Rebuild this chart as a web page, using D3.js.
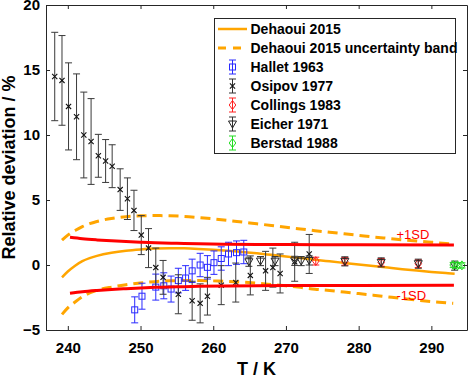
<!DOCTYPE html>
<html>
<head>
<meta charset="utf-8">
<script src="https://cdn.jsdelivr.net/npm/d3@7"></script>
<style>
  body { margin: 0; background: #fff; }
  svg text { font-family: "Liberation Sans", Arial, sans-serif; font-weight: bold; }
</style>
</head>
<body>
<script>
// chart data
var curveT = [239.2, 240, 241, 242, 243, 244, 246, 248, 250, 252, 254, 256, 258, 260, 262, 264, 266, 268, 270, 272, 274, 276, 278, 280, 282, 284, 286, 288, 290, 292, 293.2];
var curveV = [-0.95, -0.5, -0.05, 0.3, 0.53, 0.7, 0.94, 1.1, 1.2, 1.27, 1.29, 1.28, 1.24, 1.18, 1.1, 1.0, 0.9, 0.78, 0.66, 0.53, 0.4, 0.28, 0.16, 0.04, -0.08, -0.2, -0.32, -0.43, -0.53, -0.62, -0.67];

var bandT = [239.2, 240, 241, 242, 243, 244, 246, 248, 250, 252, 254, 256, 258, 260, 262, 264, 266, 268, 270, 272, 274, 276, 278, 280, 282, 284, 286, 288, 290, 292, 293];
var bandUp = [1.92, 2.3, 2.65, 2.95, 3.18, 3.35, 3.58, 3.72, 3.78, 3.8, 3.79, 3.74, 3.65, 3.55, 3.43, 3.3, 3.17, 3.04, 2.9, 2.77, 2.64, 2.52, 2.4, 2.28, 2.16, 2.05, 1.94, 1.84, 1.75, 1.66, 1.62];
var bandLo = [-3.8, -3.3, -2.85, -2.45, -2.15, -1.95, -1.7, -1.52, -1.38, -1.28, -1.22, -1.2, -1.2, -1.22, -1.26, -1.32, -1.4, -1.5, -1.6, -1.72, -1.86, -1.96, -2.08, -2.2, -2.32, -2.45, -2.58, -2.7, -2.81, -2.9, -2.95];

var sdT = [240.3, 242, 244, 246, 248, 250, 252, 255, 258, 262, 266, 270, 280, 293.1];
var sdUp = [2.13, 2.02, 1.93, 1.86, 1.8, 1.75, 1.71, 1.67, 1.63, 1.6, 1.58, 1.57, 1.55, 1.53];
var sdLo = [-2.18, -2.06, -1.96, -1.88, -1.82, -1.77, -1.72, -1.68, -1.64, -1.61, -1.59, -1.58, -1.57, -1.56];

var hallT = [249.2, 250.2, 252.1, 253.2, 254.2, 255.2, 256.2, 257.1, 258.2, 259.2, 260.1, 261.1, 262.1, 263.2, 264.2];
var hallV = [-3.45, -2.4, -1.7, -1.6, -1.85, -1.2, -1.0, -0.45, 0.0, -0.18, 0.18, 0.5, 0.85, 0.95, 1.0];
var hallE = [1.0, 1.0, 1.0, 1.0, 1.0, 0.95, 0.95, 0.9, 0.9, 0.9, 0.9, 0.9, 0.9, 0.9, 0.9];

var osiT = [238.2, 239.2, 240.1, 241.2, 242.2, 243.2, 244.2, 245.2, 246.1, 247.2, 248.2, 249.1, 250.1, 251.1, 252.1, 253.1, 255.2, 257.1, 258.2, 259.2, 261.1, 263.1, 265.1, 267.2, 268.2, 269.2, 271.2, 273.2];
var osiV = [14.5, 14.2, 12.2, 11.4, 10.0, 9.5, 8.4, 8.0, 7.6, 5.8, 5.1, 4.2, 2.3, 1.3, -0.2, -0.95, -2.25, -2.75, -2.95, -2.4, -1.55, -1.35, -0.8, -0.45, -0.2, -0.65, 0.25, 0.85];
var osiE = [3.4, 3.45, 3.35, 3.3, 3.3, 3.3, 1.65, 1.65, 1.65, 1.6, 1.6, 1.55, 1.5, 1.5, 1.5, 1.3, 1.5, 1.5, 1.5, 1.45, 1.5, 1.5, 1.5, 1.5, 1.5, 1.5, 1.5, 1.5];

var colT = [274.1, 278.1, 283.1, 288.2];
var colV = [0.3, 0.28, 0.2, 0.1];
var colE = [0.3, 0.3, 0.3, 0.3];

var eicT = [264.9, 266.5, 268.5, 271.2, 272.1, 273.2, 278.1, 283.1, 288.2, 293.2];
var eicV = [0.25, 0.3, 0.3, 0.32, 0.3, 0.35, 0.28, 0.2, 0.1, -0.05];
var eicE = [0.35, 0.35, 0.35, 0.35, 0.35, 0.35, 0.35, 0.35, 0.35, 0.35];

var berT = [293.0, 293.6, 294.2];
var berV = [0.0, -0.03, -0.03];
var berE = [0.2, 0.2, 0.2];

var xTicks = [240, 250, 260, 270, 280, 290];
var yTicks = [-5, 0, 5, 10, 15, 20];

var legendNames = ["Dehaoui 2015", "Dehaoui 2015 uncertainty band", "Hallet 1963", "Osipov 1977", "Collings 1983", "Eicher 1971", "Berstad 1988"];

var width = 469, height = 379;
var plotL = 46, plotR = 467, plotT = 5, plotB = 330;
var orange = "#ffa500", red = "#ff0000";

var svg = d3.select("body")
    .append("svg")
    .attr("width", width)
    .attr("height", height);

var xScale = d3.scaleLinear().domain([237, 294.9]).range([plotL, plotR]);
var yScale = d3.scaleLinear().domain([-5, 20]).range([plotB, plotT]);

function pairs(xs, ys) {
    return xs.map(function(t, i) { return [t, ys[i]]; });
}

var line = d3.line()
    .x(function(d) { return xScale(d[0]); })
    .y(function(d) { return yScale(d[1]); })
    .curve(d3.curveMonotoneX);

// model curve and band
svg.append("path").attr("d", line(pairs(bandT, bandUp)))
    .attr("fill", "none").attr("stroke", orange).attr("stroke-width", 3).attr("stroke-dasharray", "10,6");
svg.append("path").attr("d", line(pairs(bandT, bandLo)))
    .attr("fill", "none").attr("stroke", orange).attr("stroke-width", 3).attr("stroke-dasharray", "10,6");
svg.append("path").attr("d", line(pairs(curveT, curveV)))
    .attr("fill", "none").attr("stroke", orange).attr("stroke-width", 2.5);

// marker shapes
function drawMarker(g, kind, color) {
    if (kind == "square") {
        g.append("rect").attr("x", -3).attr("y", -3).attr("width", 6).attr("height", 6)
            .attr("fill", "none").attr("stroke", color).attr("stroke-width", 1);
    } else if (kind == "x") {
        g.append("path").attr("d", "M-2.6,-2.6L2.6,2.6M-2.6,2.6L2.6,-2.6")
            .attr("stroke", color).attr("stroke-width", 1.1);
    } else if (kind == "diamond") {
        g.append("path").attr("d", "M0,-4.5L3.3,0L0,4.5L-3.3,0Z")
            .attr("fill", "none").attr("stroke", color).attr("stroke-width", 1);
    } else if (kind == "tri") {
        g.append("path").attr("d", "M-4,-3L4,-3L0,4Z")
            .attr("fill", "none").attr("stroke", color).attr("stroke-width", 1);
    }
}

function errorSeries(ts, vs, es, kind, color, barColor) {
    var g = svg.append("g");
    var pts = g.selectAll("g").data(ts.map(function(t, i) { return {t: t, v: vs[i], e: es[i]}; }))
        .enter().append("g");
    pts.append("line")
        .attr("x1", function(d) { return xScale(d.t); })
        .attr("x2", function(d) { return xScale(d.t); })
        .attr("y1", function(d) { return yScale(d.v + d.e); })
        .attr("y2", function(d) { return yScale(d.v - d.e); })
        .attr("stroke", barColor).attr("stroke-width", 1);
    [1, -1].forEach(function(s) {
        pts.append("line")
            .attr("x1", function(d) { return xScale(d.t) - 3.5; })
            .attr("x2", function(d) { return xScale(d.t) + 3.5; })
            .attr("y1", function(d) { return yScale(d.v + s * d.e); })
            .attr("y2", function(d) { return yScale(d.v + s * d.e); })
            .attr("stroke", barColor).attr("stroke-width", 1);
    });
    pts.each(function(d) {
        var m = d3.select(this).append("g")
            .attr("transform", "translate(" + xScale(d.t) + "," + yScale(d.v) + ")");
        drawMarker(m, kind, color);
    });
}

errorSeries(hallT, hallV, hallE, "square", "#2a2aff", "#2a2aff");
errorSeries(osiT, osiV, osiE, "x", "#111", "#3a3a3a");
errorSeries(colT, colV, colE, "diamond", "#ff2020", "#ff2020");
errorSeries(eicT, eicV, eicE, "tri", "#222", "#333");
errorSeries(berT, berV, berE, "diamond", "#22dd22", "#22dd22");

// +/- 1 SD lines
svg.append("path").attr("d", line(pairs(sdT, sdUp)))
    .attr("fill", "none").attr("stroke", red).attr("stroke-width", 3);
svg.append("path").attr("d", line(pairs(sdT, sdLo)))
    .attr("fill", "none").attr("stroke", red).attr("stroke-width", 3);

svg.append("text").attr("x", xScale(285.2)).attr("y", yScale(2.0))
    .attr("fill", red).style("font-weight", "normal").attr("font-size", 13).text("+1SD");
svg.append("text").attr("x", xScale(285.2)).attr("y", yScale(-2.7))
    .attr("fill", red).style("font-weight", "normal").attr("font-size", 13).text("-1SD");

// axes (ticks inside, box on)
var axisColor = "#262626";
function styleAxis(g) {
    g.select(".domain").attr("stroke", axisColor);
    g.selectAll(".tick line").attr("stroke", axisColor);
    g.selectAll(".tick text").attr("fill", "#000").attr("font-size", 15)
        .attr("font-family", "Liberation Sans, Arial, sans-serif");
}

svg.append("g").attr("transform", "translate(0," + plotB + ")")
    .call(d3.axisBottom(xScale).tickValues(xTicks).tickSizeInner(-4).tickSizeOuter(0).tickPadding(12))
    .call(styleAxis);
svg.append("g").attr("transform", "translate(0," + plotT + ")")
    .call(d3.axisTop(xScale).tickValues(xTicks).tickSizeInner(-4).tickSizeOuter(0).tickFormat(""))
    .call(styleAxis);
svg.append("g").attr("transform", "translate(" + plotL + ",0)")
    .call(d3.axisLeft(yScale).tickValues(yTicks).tickSizeInner(-4).tickSizeOuter(0).tickPadding(6))
    .call(styleAxis);
svg.append("g").attr("transform", "translate(" + plotR + ",0)")
    .call(d3.axisRight(yScale).tickValues(yTicks).tickSizeInner(-4).tickSizeOuter(0).tickFormat(""))
    .call(styleAxis);

// axis titles
svg.append("text").attr("x", (plotL + plotR) / 2).attr("y", 375)
    .attr("text-anchor", "middle").attr("font-size", 18).text("T / K");
svg.append("text").attr("transform", "rotate(-90)")
    .attr("x", -(plotT + plotB) / 2).attr("y", 15)
    .attr("text-anchor", "middle").attr("font-size", 18).text("Relative deviation / %");

// legend
var leg = svg.append("g");
leg.append("rect").attr("x", 214.5).attr("y", 18.5).attr("width", 241).attr("height", 135)
    .attr("fill", "#fff").attr("stroke", axisColor).attr("stroke-width", 1);

var legKinds = [
    {type: "line"}, {type: "dash"},
    {type: "err", kind: "square", color: "#2a2aff", bar: "#2a2aff"},
    {type: "err", kind: "x", color: "#111", bar: "#333"},
    {type: "err", kind: "diamond", color: "#ff2020", bar: "#ff2020"},
    {type: "err", kind: "tri", color: "#222", bar: "#333"},
    {type: "err", kind: "diamond", color: "#22dd22", bar: "#22dd22"}
];

legendNames.forEach(function(name, i) {
    var yc = 29 + i * 19;
    var k = legKinds[i];
    if (k.type == "line") {
        leg.append("line").attr("x1", 218).attr("x2", 247).attr("y1", yc).attr("y2", yc)
            .attr("stroke", orange).attr("stroke-width", 2.5);
    } else if (k.type == "dash") {
        leg.append("line").attr("x1", 218).attr("x2", 247).attr("y1", yc).attr("y2", yc)
            .attr("stroke", orange).attr("stroke-width", 3).attr("stroke-dasharray", "8,7");
    } else {
        leg.append("line").attr("x1", 232.5).attr("x2", 232.5).attr("y1", yc - 7).attr("y2", yc + 7)
            .attr("stroke", k.bar);
        leg.append("line").attr("x1", 229).attr("x2", 236).attr("y1", yc - 7).attr("y2", yc - 7).attr("stroke", k.bar);
        leg.append("line").attr("x1", 229).attr("x2", 236).attr("y1", yc + 7).attr("y2", yc + 7).attr("stroke", k.bar);
        drawMarker(leg.append("g").attr("transform", "translate(232.5," + yc + ")"), k.kind, k.color);
    }
    leg.append("text").attr("x", 250.5).attr("y", yc + 5).attr("font-size", 14).text(name);
});
</script>
</body>
</html>
